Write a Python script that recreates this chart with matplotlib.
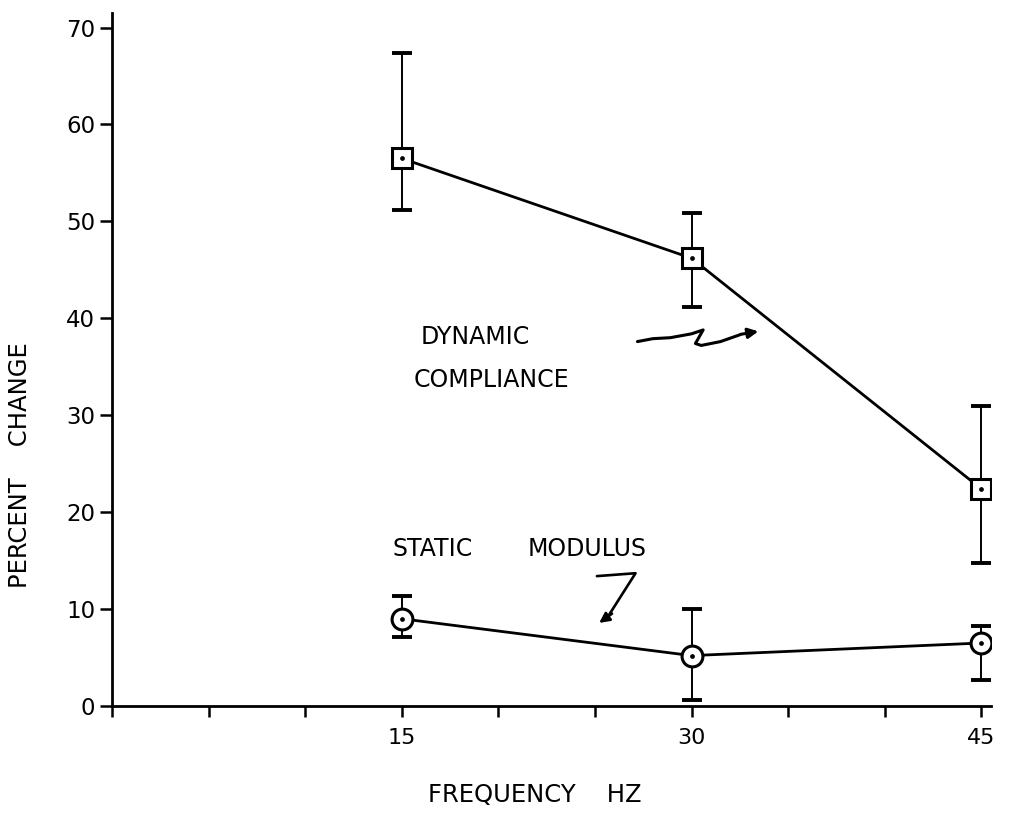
import matplotlib
matplotlib.use("Agg")
import matplotlib.pyplot as plt
import numpy as np

# Frequencies (Hz) and percent change, with lower / upper error extents
freq = [15, 30, 45]

dyn_mean = [56.5, 46.2, 22.4]
dyn_low = [51.2, 41.2, 14.8]
dyn_high = [67.4, 50.9, 31.0]

stat_mean = [9.0, 5.2, 6.5]
stat_low = [7.1, 0.6, 2.7]
stat_high = [11.3, 10.0, 8.3]

x_ticks = [0, 5, 10, 15, 20, 25, 30, 35, 40, 45]
x_tick_labels = ["", "", "", "15", "", "", "30", "", "", "45"]
y_ticks = [0, 10, 20, 30, 40, 50, 60, 70]

plt.rcParams["font.family"] = ["DejaVu Sans"]

fig = plt.figure(figsize=(10.10, 8.13), dpi=100)
ax = fig.add_axes([112 / 1010, 107 / 813, 879 / 1010, 693 / 813])
ax.set_xlim(0, 45.5)
ax.set_ylim(0, 71.5)

for s in ("top", "right"):
    ax.spines[s].set_visible(False)
for s in ("left", "bottom"):
    ax.spines[s].set_linewidth(2.0)

ax.set_xticks(x_ticks)
ax.set_xticklabels(x_tick_labels, fontsize=16)
ax.set_yticks(y_ticks)
ax.set_yticklabels([str(v) for v in y_ticks], fontsize=16.5)
ax.tick_params(axis="x", direction="out", length=8, width=1.8, pad=8)
ax.tick_params(axis="y", direction="out", length=9, width=1.8, pad=3)


def draw_series(mean, low, high, marker, msize):
    mean = np.array(mean)
    err = np.vstack([mean - np.array(low), np.array(high) - mean])
    ax.errorbar(freq, mean, yerr=err, fmt="none", ecolor="black",
                elinewidth=1.4, capsize=7, capthick=2.8, zorder=2)
    ax.plot(freq, mean, color="black", linewidth=2.0, zorder=3)
    ax.plot(freq, mean, linestyle="none", marker=marker, markersize=msize,
            markerfacecolor="white", markeredgecolor="black",
            markeredgewidth=2.2, zorder=4)
    ax.plot(freq, mean, linestyle="none", marker="o", markersize=2.4,
            color="black", zorder=5)


draw_series(dyn_mean, dyn_low, dyn_high, "s", 14.5)
draw_series(stat_mean, stat_low, stat_high, "o", 15)

# Series labels
lab_kw = dict(fontsize=17, va="center", ha="left")
ax.text(16.0, 38.1, "DYNAMIC", **lab_kw)
ax.text(15.6, 33.6, "COMPLIANCE", **lab_kw)
ax.text(14.5, 16.2, "STATIC", **lab_kw)
ax.text(21.5, 16.2, "MODULUS", **lab_kw)

# Hand-drawn style pointer arrows
sq_x = [27.2, 28.0, 28.9, 30.0, 30.6, 30.2, 30.5, 31.5, 32.5]
sq_y = [37.6, 37.9, 38.0, 38.4, 38.8, 37.4, 37.2, 37.6, 38.3]
ax.plot(sq_x, sq_y, color="black", linewidth=2.2, solid_capstyle="round",
        solid_joinstyle="round")
ax.annotate("", xy=(33.6, 38.7), xytext=(32.4, 38.3),
            arrowprops=dict(arrowstyle="-|>,head_length=0.6,head_width=0.3",
                            color="black", lw=2.2))

ax.plot([25.1, 27.1, 25.6], [13.4, 13.7, 9.0], color="black", linewidth=1.9,
        solid_capstyle="round", solid_joinstyle="round")
ax.annotate("", xy=(25.1, 8.4), xytext=(26.0, 9.7),
            arrowprops=dict(arrowstyle="-|>,head_length=0.6,head_width=0.3",
                            color="black", lw=1.9))

fig.text(20 / 1010, 1 - 465 / 813, "PERCENT    CHANGE", rotation=90,
         fontsize=17.5, ha="center", va="center")
fig.text(535 / 1010, 1 - 795 / 813, "FREQUENCY    HZ", fontsize=17.5,
         ha="center", va="center")

fig.savefig("out.png", dpi=100, facecolor="white")
